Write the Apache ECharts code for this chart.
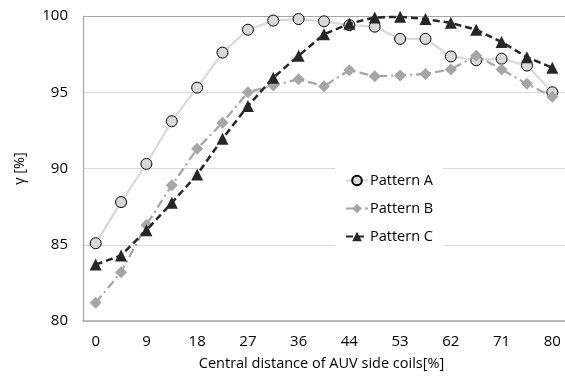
<!DOCTYPE html>
<html>
<head>
<meta charset="utf-8">
<script src="https://cdn.jsdelivr.net/npm/echarts@6/dist/echarts.min.js"></script>
<style>
  html, body { margin: 0; padding: 0; background: #fff; }
  #chart { width: 565px; height: 376px; }
</style>
</head>
<body>
<div id="chart"></div>
<script>
// x categories (only every other one is labelled)
const distances = ["0", "4", "9", "13", "18", "22", "27", "31", "36", "40", "44", "49", "53", "58", "62", "67", "71", "76", "80"];
// efficiency values [%]
const patternA = [85.1, 87.8, 90.3, 93.1, 95.3, 97.6, 99.1, 99.7, 99.8, 99.65, 99.4, 99.3, 98.5, 98.5, 97.35, 97.1, 97.2, 96.75, 95.0];
const patternB = [81.2, 83.2, 86.3, 88.9, 91.3, 93.0, 95.0, 95.45, 95.85, 95.4, 96.45, 96.05, 96.1, 96.2, 96.5, 97.4, 96.5, 95.55, 94.7];
const patternC = [83.7, 84.3, 85.95, 87.75, 89.6, 91.95, 94.1, 95.95, 97.4, 98.8, 99.5, 99.9, 99.95, 99.8, 99.55, 99.1, 98.3, 97.3, 96.6];

const myChart = echarts.init(document.getElementById("chart"));
const font = "Open Sans";

const option = {
  animation: false,
  textStyle: { fontFamily: font },
  grid: { left: 83, top: 16, width: 485, bottom: 52 },
  xAxis: {
    type: "category",
    data: distances,
    boundaryGap: true,
    name: "Central distance of AUV side coils[%]",
    nameLocation: "middle",
    nameGap: 35,
    nameTextStyle: { color: "#000", fontSize: 14.5, fontFamily: font, padding: [0, 0, 0, -5] },
    axisLine: { lineStyle: { color: "#a6a6a6", width: 1.5 } },
    axisTick: { show: false },
    axisLabel: { interval: 1, color: "#000", fontSize: 15, margin: 13, fontFamily: font },
    splitLine: { show: false }
  },
  yAxis: {
    type: "value",
    min: 80,
    max: 100,
    interval: 5,
    name: "γ [%]",
    nameLocation: "middle",
    nameRotate: 90,
    nameGap: 56,
    nameTextStyle: { color: "#000", fontSize: 14.5, fontFamily: font },
    axisLine: { show: true, lineStyle: { color: "#a6a6a6", width: 1.2 } },
    axisTick: { show: false },
    axisLabel: { color: "#000", fontSize: 15, margin: 15, fontFamily: font },
    splitLine: { lineStyle: { color: ["#d9d9d9", "#d9d9d9", "#d9d9d9", "#d9d9d9", "#a6a6a6"], width: 1 } }
  },
  legend: {
    orient: "vertical",
    left: 335,
    top: 163,
    padding: [10, 10, 10, 10],
    backgroundColor: "#fff",
    itemWidth: 22,
    itemHeight: 12,
    itemGap: 13,
    textStyle: { color: "#000", fontSize: 14.5, fontFamily: font, padding: [0, 0, 0, -3] },
    data: ["Pattern A", "Pattern B", "Pattern C"]
  },
  series: [
    {
      name: "Pattern A",
      type: "line",
      data: patternA,
      symbol: "circle",
      symbolSize: 11,
      z: 2,
      lineStyle: { color: "#d9d9d9", width: 2.25 },
      itemStyle: { color: "#d9d9d9", borderColor: "#000", borderWidth: 1 }
    },
    {
      name: "Pattern B",
      type: "line",
      data: patternB,
      symbol: "diamond",
      symbolSize: 12,
      z: 3,
      lineStyle: { color: "#a6a6a6", width: 2.25, type: [9, 4, 2, 4] },
      itemStyle: { color: "#a6a6a6" }
    },
    {
      name: "Pattern C",
      type: "line",
      data: patternC,
      symbol: "triangle",
      symbolSize: 12,
      z: 4,
      lineStyle: { color: "#262626", width: 2.5, type: [7, 4] },
      itemStyle: { color: "#262626" }
    }
  ]
};

myChart.setOption(option);
</script>
</body>
</html>
